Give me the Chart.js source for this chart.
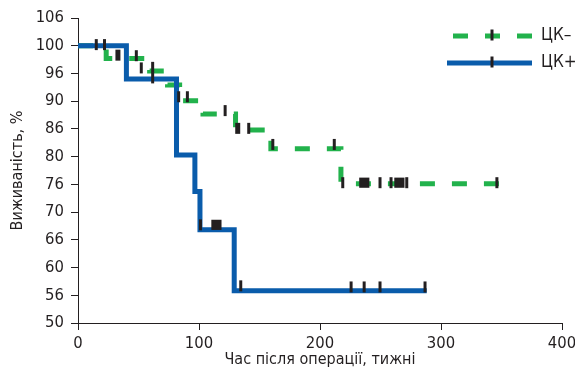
<!DOCTYPE html>
<html>
<head>
<meta charset="utf-8">
<script src="https://cdn.jsdelivr.net/npm/chart.js@4/dist/chart.umd.min.js"></script>
<style>
  html, body { margin: 0; padding: 0; background: #fff; }
  #wrap { width: 575px; height: 379px; }
</style>
</head>
<body>
<div id="wrap"><canvas id="km" width="575" height="379"></canvas></div>
<script>
// series names
const seriesLabels = ['ЦК–', 'ЦК+'];

// y axis tick labels as printed (ticks are evenly spaced 50..105)
const yTickLabels = ['50', '56', '60', '66', '70', '76', '80', '86', '90', '96', '100', '106'];

// ЦК+ survival steps (weeks, %)
const weeksPlus = [0, 40, 81.4, 96.6, 100.8, 129.1, 288.2];
const survPlus = [100, 94.0, 80.3, 73.7, 66.8, 55.8, 55.8];
// ЦК+ censored marks
const censPlusT = [15.1, 21.9, 101.2, 134.5, 225.7, 236.5, 249.6, 286.8];
const censPlusS = [100.2, 100.2, 67.7, 56.7, 56.5, 56.5, 56.5, 56.5];
const boxPlusT = [114.4];
const boxPlusS = [67.7];

// ЦК– survival steps
const weeksMinus = [0, 23.3, 59.2, 74, 84, 103.3, 130.2, 159.4, 217.3, 351.2];
const survMinus = [100, 97.7, 95.45, 92.9, 90.1, 87.7, 84.8, 81.4, 75.1, 75.1];
// ЦК– censored marks
const censMinusT = [48.2, 52.3, 61.7, 61.7, 83.2, 90.4, 121.6, 141.1, 161, 211.8, 218.8, 249.6, 258.7, 271.7, 346.2];
const censMinusS = [98.2, 96.0, 96.1, 94.2, 90.8, 90.8, 88.3, 85.1, 82.2, 82.2, 75.3, 75.3, 75.3, 75.3, 75.3];
const thickMinusT = [33, 132];
const thickMinusS = [98.3, 85.1];
const boxMinusT = [236.6, 265.6];
const boxMinusS = [75.3, 75.3];

const GREEN = '#22b24c';
const BLUE = '#0a5cab';
const INK = '#231f20';
const FONT = "'Liberation Sans Narrow', 'Arial Narrow', 'DejaVu Sans Condensed', sans-serif";

function pts(xs, ys) {
  return xs.map((x, i) => ({ x: x, y: ys[i] }));
}

function marks(xs, ys, width) {
  return {
    data: pts(xs, ys),
    showLine: false,
    pointStyle: 'line',
    pointRotation: 90,
    pointRadius: 5.5,
    pointHoverRadius: 5.5,
    pointBorderWidth: width,
    pointBorderColor: INK,
    borderColor: INK,
    order: 0,
    isLegend: false
  };
}

function boxes(xs, ys) {
  return {
    data: pts(xs, ys),
    showLine: false,
    pointStyle: 'rect',
    pointRadius: 7.2,
    pointBorderWidth: 0,
    pointBackgroundColor: INK,
    borderColor: INK,
    order: 0,
    isLegend: false
  };
}

// custom legend: dashed/solid line with a censor tick, then the label
const kmLegend = {
  id: 'kmLegend',
  afterDraw(chart, args, opts) {
    const ctx = chart.ctx;
    const items = chart.data.datasets.filter(d => d.isLegend);
    ctx.save();
    items.forEach((ds, i) => {
      const y = opts.top + i * opts.gap;
      ctx.beginPath();
      ctx.lineWidth = ds.borderWidth;
      ctx.strokeStyle = ds.borderColor;
      ctx.setLineDash(ds.borderDash || []);
      ctx.lineCap = 'butt';
      ctx.moveTo(ds.borderDash ? opts.dashStart : opts.lineStart, y);
      ctx.lineTo(opts.lineEnd, y);
      ctx.stroke();
      ctx.setLineDash([]);
      ctx.beginPath();
      ctx.lineWidth = 3;
      ctx.strokeStyle = INK;
      ctx.moveTo(opts.tickX, y - 6.5);
      ctx.lineTo(opts.tickX, y + 4.5);
      ctx.stroke();
      ctx.fillStyle = INK;
      ctx.font = '17px ' + FONT;
      ctx.textBaseline = 'middle';
      ctx.textAlign = 'left';
      ctx.fillText(ds.label, opts.textX, y);
    });
    ctx.restore();
  }
};

const datasets = [
  Object.assign(marks(censPlusT, censPlusS, 3), { label: 'censPlus' }),
  Object.assign(boxes(boxPlusT, boxPlusS), { label: 'boxPlus' }),
  Object.assign(marks(censMinusT, censMinusS, 3), { label: 'censMinus' }),
  Object.assign(marks(thickMinusT, thickMinusS, 5), { label: 'thickMinus' }),
  Object.assign(boxes(boxMinusT, boxMinusS), { label: 'boxMinus' }),
  {
    label: seriesLabels[0],
    data: pts(weeksMinus, survMinus),
    stepped: true,
    borderColor: GREEN,
    borderWidth: 5,
    borderDash: [15, 17],
    borderCapStyle: 'butt',
    borderJoinStyle: 'miter',
    pointRadius: 0,
    fill: false,
    order: 2,
    isLegend: true
  },
  {
    label: seriesLabels[1],
    data: pts(weeksPlus, survPlus),
    stepped: true,
    borderColor: BLUE,
    borderWidth: 5,
    borderCapStyle: 'butt',
    borderJoinStyle: 'miter',
    pointRadius: 0,
    fill: false,
    order: 1,
    isLegend: true
  }
];

new Chart(document.getElementById('km'), {
  type: 'line',
  data: { datasets: datasets },
  options: {
    responsive: false,
    animation: false,
    events: [],
    layout: { padding: { top: 18, right: 13, bottom: 0, left: 0 } },
    plugins: {
      legend: { display: false },
      tooltip: { enabled: false },
      kmLegend: { top: 36, gap: 27, dashStart: 453, lineStart: 447, lineEnd: 532, tickX: 492, textX: 541 }
    },
    scales: {
      x: {
        type: 'linear',
        min: 0,
        max: 400,
        afterFit(scale) {
          scale.height = 56;
          // let the last label hang into the right margin
          scale.paddingLeft = 0;
          scale.paddingRight = 0;
        },
        ticks: { stepSize: 100, color: INK, padding: 4, font: { family: FONT, size: 16.5 } },
        grid: { display: true, drawOnChartArea: false, drawTicks: true, tickLength: 7, color: INK, lineWidth: 1 },
        border: { display: true, color: INK, width: 1 },
        title: { display: true, text: 'Час після операції, тижні', color: INK, font: { family: FONT, size: 16 }, padding: { top: 0, bottom: 10 } }
      },
      y: {
        type: 'linear',
        min: 50,
        max: 105,
        afterFit(scale) { scale.width = 78; },
        ticks: {
          stepSize: 5,
          color: INK,
          padding: 7,
          font: { family: FONT, size: 16.5 },
          callback: (value, index) => yTickLabels[index]
        },
        grid: { display: true, drawOnChartArea: false, drawTicks: true, tickLength: 7, color: INK, lineWidth: 1 },
        border: { display: true, color: INK, width: 1 },
        title: { display: true, text: 'Виживаність, %', color: INK, font: { family: FONT, size: 16 }, padding: { top: 8, bottom: 0 } }
      }
    }
  },
  plugins: [kmLegend]
});
</script>
</body>
</html>
